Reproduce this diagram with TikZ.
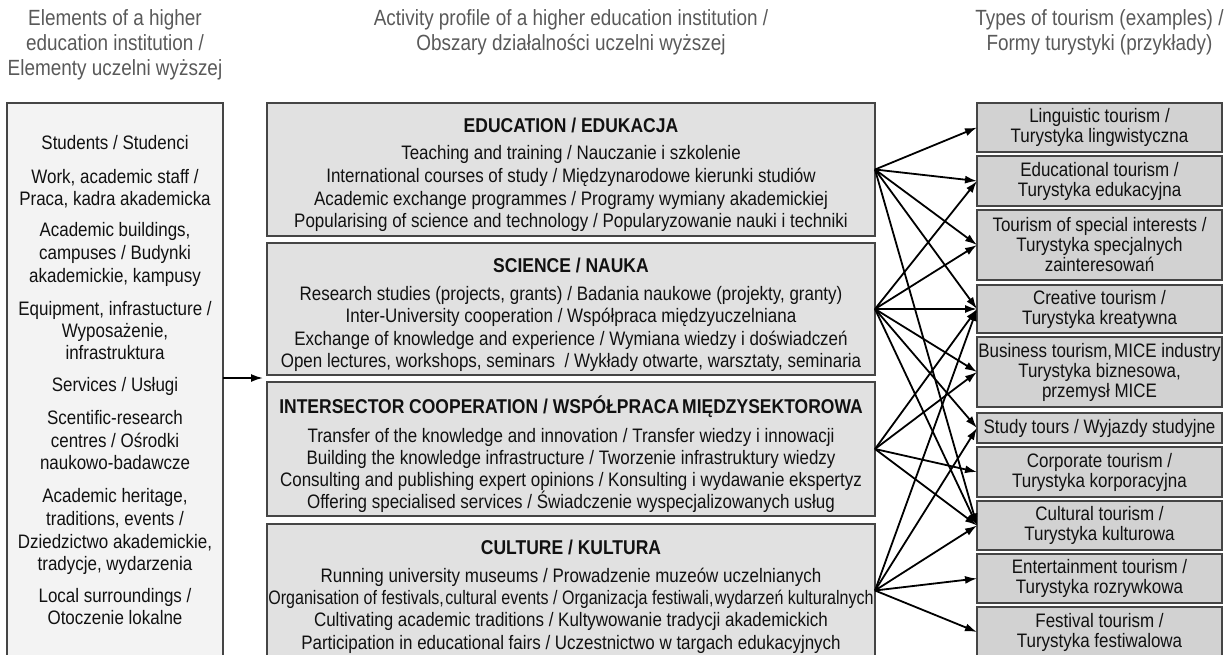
\documentclass[tikz,border=0pt]{standalone}
\usepackage{fontspec}
\usepackage{graphicx}
\setmainfont{Liberation Sans}
\newfontfamily\bxfont{Liberation Sans}[FakeStretch=0.87]
\newfontfamily\hbfont{Liberation Sans}[FakeStretch=0.875]
\newfontfamily\tpfont{Liberation Sans}[FakeStretch=0.86]
\usetikzlibrary{arrows.meta}
\definecolor{leftfill}{HTML}{F3F3F3}
\definecolor{midfill}{HTML}{E1E1E1}
\definecolor{rightfill}{HTML}{D2D2D2}
\definecolor{edgegray}{HTML}{454545}
\definecolor{headgray}{HTML}{595959}
\definecolor{inkcol}{HTML}{111111}
\begin{document}
\begin{tikzpicture}[x=1pt,y=-1pt,
  lbox/.style={draw=edgegray, fill=leftfill, line width=1.5pt, inner sep=0pt, outer sep=0pt, anchor=north west},
  mbox/.style={draw=edgegray, fill=midfill, line width=1.5pt, inner sep=0pt, outer sep=0pt, anchor=north west, minimum width=608pt},
  rbox/.style={draw=edgegray, fill=rightfill, line width=1.5pt, inner sep=0pt, outer sep=0pt, minimum width=245pt, align=center, text=inkcol, font=\bxfont\fontsize{19.5}{20}\selectfont},
  txt/.style={inner sep=0pt, anchor=base, text=inkcol, font=\bxfont\fontsize{19.5}{22}\selectfont},
  hdr/.style={inner sep=0pt, anchor=base, text=inkcol, font=\hbfont\bfseries\fontsize{20}{22}\selectfont},
  top/.style={inner sep=0pt, anchor=base, text=headgray, font=\tpfont\fontsize{22}{25}\selectfont},
  arr/.style={-{Latex[length=12pt,width=8pt]}, line width=1.8pt, black}
]
\useasboundingbox (0,0) rectangle (1228,655);
\clip (0,0) rectangle (1228,655);

% column headings
\node[top] (h1a) at (115,26) {Elements of a higher};
\node[top] (h1b) at (115,51) {education institution /};
\node[top] (h1c) at (115,76) {Elementy uczelni wyższej};
\node[top] (h2a) at (571,26) {Activity profile of a higher education institution /};
\node[top] (h2b) at (571,51) {Obszary działalności uczelni wyższej};
\node[top] (h3a) at (1099.5,26) {Types of tourism (examples) /};
\node[top] (h3b) at (1099.5,51) {Formy turystyki (przykłady)};

% left column
\node[lbox, minimum width=216pt, minimum height=554pt] (left) at (7,103) {};
\node[txt] (l1) at (115,150) {Students / Studenci};
\node[txt] (l2) at (115,184) {Work, academic staff /};
\node[txt] (l3) at (115,206) {Praca, kadra akademicka};
\node[txt] (l4) at (115,236) {Academic buildings,};
\node[txt] (l5) at (115,259) {campuses / Budynki};
\node[txt] (l6) at (115,282) {akademickie, kampusy};
\node[txt] (l7) at (115,315) {Equipment, infrastucture /};
\node[txt] (l8) at (115,337) {Wyposażenie,};
\node[txt] (l9) at (115,359) {infrastruktura};
\node[txt] (l10) at (115,391) {Services / Usługi};
\node[txt] (l11) at (115,424) {Scentific-research};
\node[txt] (l12) at (115,447) {centres / Ośrodki};
\node[txt] (l13) at (115,469) {naukowo-badawcze};
\node[txt] (l14) at (115,502) {Academic heritage,};
\node[txt] (l15) at (115,525) {traditions, events /};
\node[txt] (l16) at (115,548) {Dziedzictwo akademickie,};
\node[txt] (l17) at (115,570) {tradycje, wydarzenia};
\node[txt] (l18) at (115,602) {Local surroundings /};
\node[txt] (l19) at (115,624) {Otoczenie lokalne};

% middle column
\node[mbox, minimum height=133pt] (edu) at (267,103) {};
\node[mbox, minimum height=132pt] (sci) at (267,243) {};
\node[mbox, minimum height=134pt] (inter) at (267,382) {};
\node[mbox, minimum height=133pt] (cultm) at (267,524) {};

\node[hdr] (e0) at (571,133) {EDUCATION / EDUKACJA};
\node[txt] (e1) at (571,160) {Teaching and training / Nauczanie i szkolenie};
\node[txt] (e2) at (571,182.5) {International courses of study / Międzynarodowe kierunki studiów};
\node[txt] (e3) at (571,205) {Academic exchange programmes / Programy wymiany akademickiej};
\node[txt] (e4) at (571,227.5) {Popularising of science and technology / Popularyzowanie nauki i techniki};

\node[hdr] (s0) at (571,272) {SCIENCE / NAUKA};
\node[txt] (s1) at (571,300) {Research studies (projects, grants) / Badania naukowe (projekty, granty)};
\node[txt] (s2) at (571,322.5) {Inter-University cooperation / Współpraca międzyuczelniana};
\node[txt] (s3) at (571,345) {Exchange of knowledge and experience / Wymiana wiedzy i doświadczeń};
\node[txt] (s4) at (571,367.5) {Open lectures, workshops, seminars \ / Wykłady otwarte, warsztaty, seminaria};

\node[hdr] (i0) at (571,413) {INTERSECTOR COOPERATION / WSPÓŁPRACA\hspace{3pt}MIĘDZYSEKTOROWA};
\node[txt] (i1) at (571,442) {Transfer of the knowledge and innovation / Transfer wiedzy i innowacji};
\node[txt] (i2) at (571,464) {Building the knowledge infrastructure / Tworzenie infrastruktury wiedzy};
\node[txt] (i3) at (571,486) {Consulting and publishing expert opinions / Konsulting i wydawanie ekspertyz};
\node[txt] (i4) at (571,508) {Offering specialised services / Świadczenie wyspecjalizowanych usług};

\node[hdr] (c0) at (571,554) {CULTURE / KULTURA};
\node[txt] (c1) at (571,582) {Running university museums / Prowadzenie muzeów uczelnianych};
\node[txt] (c2) at (571,604) {\scalebox{0.945}[1]{Organisation of festivals,\hspace{1.5pt}cultural events / Organizacja festiwali,\hspace{1.5pt}wydarzeń kulturalnych}};
\node[txt] (c3) at (571,626) {Cultivating academic traditions / Kultywowanie tradycji akademickich};
\node[txt] (c4) at (571,649) {Participation in educational fairs / Uczestnictwo w targach edukacyjnych};

% right column
\node[rbox, minimum height=49pt] (ling) at (1099.5,127.5) {Linguistic tourism /\\Turystyka lingwistyczna};
\node[rbox, minimum height=50pt] (educ) at (1099.5,181) {Educational tourism /\\Turystyka edukacyjna};
\node[rbox, minimum height=70pt] (spec) at (1099.5,245) {Tourism of special interests /\\Turystyka specjalnych\\zainteresowań};
\node[rbox, minimum height=48pt] (crea) at (1099.5,309) {Creative tourism /\\Turystyka kreatywna};
\node[rbox, minimum height=70pt] (busi) at (1099.5,372) {Business tourism,\hspace{2pt}MICE industry\\Turystyka biznesowa,\\przemysł MICE};
\node[rbox, minimum height=30pt] (stud) at (1099.5,428) {Study tours / Wyjazdy studyjne};
\node[rbox, minimum height=50pt] (corp) at (1099.5,472) {Corporate tourism /\\Turystyka korporacyjna};
\node[rbox, minimum height=49pt] (cultr) at (1099.5,525.5) {Cultural tourism /\\Turystyka kulturowa};
\node[rbox, minimum height=49pt] (ente) at (1099.5,578.5) {Entertainment tourism /\\Turystyka rozrywkowa};
\node[rbox, minimum height=50pt] (fest) at (1099.5,632) {Festival tourism /\\Turystyka festiwalowa};

% left to middle arrow
\coordinate (la) at (223,378);
\coordinate (lb) at (263,378);
\draw[arr] (la) -- (lb);

% middle to right arrows
\foreach \t in {ling,educ,spec,crea,cultr} \draw[arr] (edu.east) -- (\t.west);
\foreach \t in {educ,spec,crea,busi,stud,cultr} \draw[arr] (sci.east) -- (\t.west);
\foreach \t in {crea,busi,corp,cultr} \draw[arr] (inter.east) -- (\t.west);
\foreach \t in {crea,stud,cultr,ente,fest} \draw[arr] (cultm.east) -- (\t.west);
\end{tikzpicture}
\end{document}
